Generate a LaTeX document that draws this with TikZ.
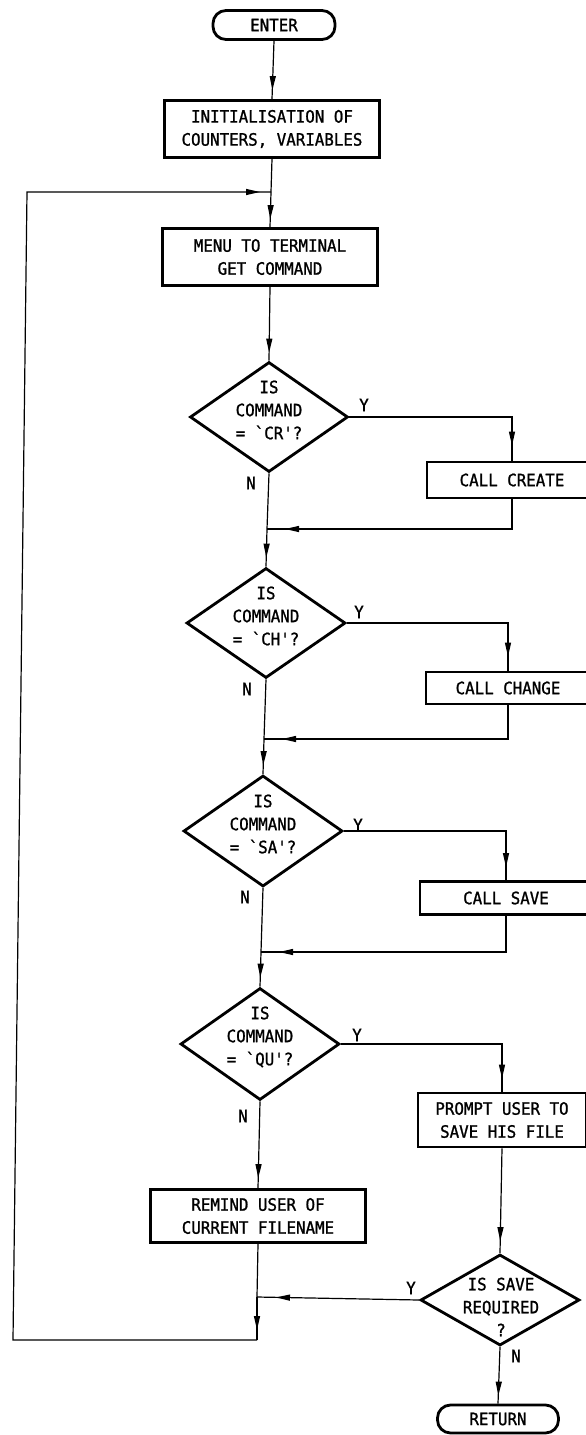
\documentclass[tikz,border=0pt]{standalone}
\usepackage{fontspec}
\setmonofont{DejaVu Sans Mono}[FakeStretch=0.93, FakeBold=1.2]
\usetikzlibrary{shapes.geometric,arrows.meta,decorations.markings}
\begin{document}
\begin{tikzpicture}[x=1pt,y=1pt,
  base/.style={font=\ttfamily\fontsize{17}{23}\selectfont, align=center, inner sep=0pt},
  box/.style={base, draw, line width=2.8pt},
  term/.style={base, draw, line width=2.8pt, rounded corners=13pt},
  dia/.style={draw, diamond, line width=2.8pt, inner sep=0pt},
  lbl/.style={base},
  conn/.style={line width=1.2pt},
  tipat/.style={conn, postaction={decorate},
    decoration={markings, mark=at position #1 with {\arrow{Triangle[length=14pt,width=6pt]}}}}
]
\useasboundingbox (0,0) rectangle (586,-1435);
\clip (0,0) rectangle (586,-1435);

% main column
\node[term, minimum width=122pt, minimum height=29pt] (enter) at (274,-25) {ENTER};
\node[box, minimum width=215pt, minimum height=57pt] (init) at (272,-129) {INITIALISATION OF\\COUNTERS, VARIABLES};
\node[box, minimum width=215pt, minimum height=57pt] (menu) at (270,-257) {MENU TO TERMINAL\\GET COMMAND};

\node[dia, minimum width=158pt, minimum height=110pt] (d1) at (269,-417) {};
\node[lbl] (t1) at (269,-410) {IS\\COMMAND\\= `CR'?};
\node[dia, minimum width=159pt, minimum height=110pt] (d2) at (266,-623) {};
\node[lbl] (t2) at (266,-616) {IS\\COMMAND\\= `CH'?};
\node[dia, minimum width=159pt, minimum height=111pt] (d3) at (263,-831) {};
\node[lbl] (t3) at (263,-824) {IS\\COMMAND\\= `SA'?};
\node[dia, minimum width=159pt, minimum height=112pt] (d4) at (260,-1044) {};
\node[lbl] (t4) at (260,-1037) {IS\\COMMAND\\= `QU'?};
\node[box, minimum width=215pt, minimum height=53pt] (rm) at (258,-1216) {REMIND USER OF\\CURRENT FILENAME};

% right column
\node[box, minimum width=170pt, minimum height=36pt] (cc) at (512,-480) {CALL CREATE};
\node[box, minimum width=164pt, minimum height=32pt] (ch) at (508,-688) {CALL CHANGE};
\node[box, minimum width=172pt, minimum height=33pt] (sv) at (506,-898) {CALL SAVE};
\node[box, minimum width=168pt, minimum height=54pt] (pr) at (502,-1120) {PROMPT USER TO\\SAVE HIS FILE};
\node[dia, minimum width=159pt, minimum height=91pt] (d5) at (500,-1300) {};
\node[lbl] (t5) at (501,-1307) {IS SAVE\\REQUIRED\\?};
\node[term, minimum width=121pt, minimum height=28pt] (ret) at (498,-1419) {RETURN};

% junctions
\coordinate (jt) at (271,-192);
\coordinate (j1) at (267,-529);
\coordinate (j2) at (264,-739);
\coordinate (j3) at (261,-952);
\coordinate (jb) at (257,-1297);
\coordinate (cb) at (257,-1340);
\coordinate (cl) at (13,-1340);
\coordinate (ct) at (27,-192);

% connectors
\draw[tipat=-9pt] (enter.south) -- (init.north);
\draw[conn] (init.south) -- (jt);
\draw[tipat=-8pt] (jt) -- (menu.north);
\draw[tipat=-8pt] (menu.south) -- (d1.north);

\draw[tipat=-15pt] (d1.east) -| (cc.north);
\draw[conn] (d1.south) -- (j1);
\draw[tipat=-18pt] (cc.south) |- (j1);
\draw[tipat=-9pt] (j1) -- (d2.north);

\draw[tipat=-14pt] (d2.east) -| (ch.north);
\draw[conn] (d2.south) -- (j2);
\draw[tipat=-18pt] (ch.south) |- (j2);
\draw[tipat=-9pt] (j2) -- (d3.north);

\draw[tipat=-13pt] (d3.east) -| (sv.north);
\draw[conn] (d3.south) -- (j3);
\draw[tipat=-18pt] (sv.south) |- (j3);
\draw[tipat=-9pt] (j3) -- (d4.north);

\draw[tipat=-13pt] (d4.east) -| (pr.north);
\draw[tipat=-10pt] (d4.south) -- (rm.north);
\draw[tipat=-12pt] (pr.south) -- (d5.north);
\draw[tipat=-19pt] (d5.west) -- (jb);
\draw[conn] (rm.south) -- (jb);
\draw[tipat=-10pt] (jb) -- (cb);
\draw[tipat=-11pt] (cb) -- (cl) -- (ct) -- (jt);
\draw[tipat=-8pt] (d5.south) -- (ret.north);

% branch labels
\node[lbl] (y1) at (364,-405) {Y};
\node[lbl] (n1) at (251,-483) {N};
\node[lbl] (y2) at (359,-612) {Y};
\node[lbl] (n2) at (247,-689) {N};
\node[lbl] (y3) at (358,-825) {Y};
\node[lbl] (n3) at (245,-897) {N};
\node[lbl] (y4) at (357,-1035) {Y};
\node[lbl] (n4) at (243,-1116) {N};
\node[lbl] (y5) at (411,-1288) {Y};
\node[lbl] (n5) at (516,-1356) {N};
\end{tikzpicture}
\end{document}
